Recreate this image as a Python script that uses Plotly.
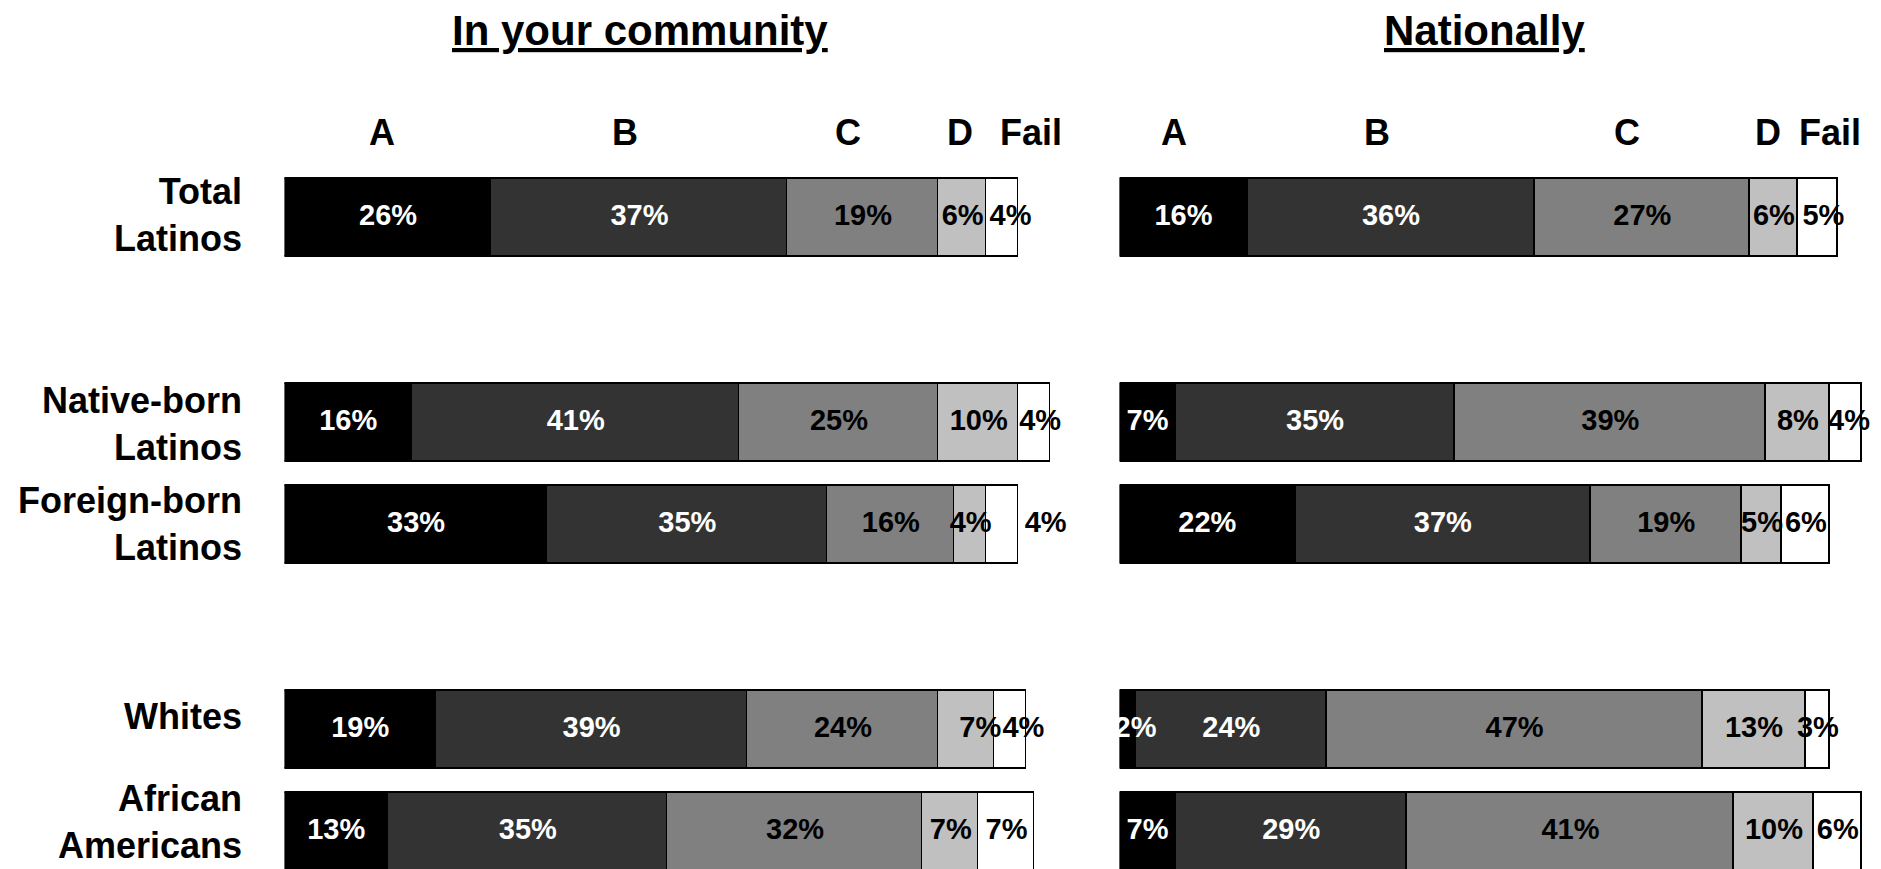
import plotly.graph_objects as go

# ---------------- data ----------------
rows = ["Total Latinos", "Native-born Latinos", "Foreign-born Latinos", "Whites", "African Americans"]
row_labels = ["Total<br>Latinos", "Native-born<br>Latinos", "Foreign-born<br>Latinos", "Whites", "African<br>Americans"]
row_groups = [1, 2, 2]  # number of rows in each visual group
grades = ["A", "B", "C", "D", "Fail"]

community_A = [26, 16, 33, 19, 13]
community_B = [37, 41, 35, 39, 35]
community_C = [19, 25, 16, 24, 32]
community_D = [6, 10, 4, 7, 7]
community_Fail = [4, 4, 4, 4, 7]

national_A = [16, 7, 22, 2, 7]
national_B = [36, 35, 37, 24, 29]
national_C = [27, 39, 19, 47, 41]
national_D = [6, 8, 5, 13, 10]
national_Fail = [5, 4, 6, 3, 6]

panel_titles = ["In your community", "Nationally"]

# ---------------- styling / layout ----------------
W, H = 1881, 869
OFF = 8  # page body margin compensation
FONT = "Arial, Liberation Sans, Helvetica, sans-serif"
fill_colors = ["#000000", "#333333", "#808080", "#c0c0c0", "#ffffff"]
text_colors = ["#ffffff", "#ffffff", "#000000", "#000000", "#000000"]

# row slots: groups separated by one empty slot
slots = []
s = 0
for g in row_groups:
    for _ in range(g):
        slots.append(s)
        s += 1
    s += 1

slot_px = 102.3
first_px = 218 - OFF
y_top = -first_px / slot_px
y_bot = (H - first_px) / slot_px
bar_w = 78 / slot_px

px_per_pct = 7.98
left_x0 = 284.4 - OFF
right_x0 = 1119.6 - OFF
left_range = 100
right_range = 95
left_dom = [left_x0 / W, (left_x0 + left_range * px_per_pct) / W]
right_dom = [right_x0 / W, (right_x0 + right_range * px_per_pct) / W]

# header positions (in % units along each panel)
header_x = {
    "x": [12.2, 42.7, 70.6, 84.7, 93.6],
    "x2": [6.8, 32.3, 63.6, 81.2, 89.0],
}
# small label nudges (in % units) where the original moved labels aside
label_nudge = {
    ("x", 0, 4): 1.0,
    ("x", 1, 4): 0.7,
    ("x", 2, 4): 5.4,
    ("x", 3, 3): 1.7,
    ("x", 3, 4): 1.6,
    ("x2", 0, 4): 0.7,
    ("x2", 1, 4): 0.4,
    ("x2", 3, 0): 1.0,
}
row_label_shift = [3, -1, 1, 13, 10]

panels = [
    ("x", "y", [community_A, community_B, community_C, community_D, community_Fail]),
    ("x2", "y2", [national_A, national_B, national_C, national_D, national_Fail]),
]

fig = go.Figure()

for xa, ya, series in panels:
    for gi, (g, vals) in enumerate(zip(grades, series)):
        fig.add_trace(go.Bar(
            x=vals, y=slots, orientation="h", name=g, width=bar_w,
            marker=dict(color=fill_colors[gi], line=dict(color="#000000", width=1.6)),
            xaxis=xa, yaxis=ya, showlegend=False, hoverinfo="skip",
        ))
    # labels
    lx, ly, lt, lc = [], [], [], []
    for ri in range(len(rows)):
        cum = 0
        for gi in range(len(grades)):
            v = series[gi][ri]
            lx.append(cum + v / 2 + label_nudge.get((xa, ri, gi), 0))
            ly.append(slots[ri])
            lt.append(f"<b>{v}%</b>")
            lc.append(text_colors[gi])
            cum += v
    fig.add_trace(go.Scatter(
        x=lx, y=ly, text=lt, mode="text", textposition="middle center",
        textfont=dict(family=FONT, size=29, color=lc),
        xaxis=xa, yaxis=ya, showlegend=False, hoverinfo="skip", cliponaxis=False,
    ))

annotations = []
for xa, hx in header_x.items():
    for g, x in zip(grades, hx):
        annotations.append(dict(
            x=x, y=1 - (132 - OFF) / H, xref=xa, yref="paper", text=f"<b>{g}</b>",
            showarrow=False, xanchor="center", yanchor="middle",
            font=dict(family=FONT, size=36, color="#000000"),
        ))

title_centers = [(640 - OFF) / W, (1484.4 - OFF) / W]
for t, cx in zip(panel_titles, title_centers):
    annotations.append(dict(
        x=cx, y=1 - (31 - OFF) / H, xref="paper", yref="paper", text=f"<b><u>{t}</u></b>",
        showarrow=False, xanchor="center", yanchor="middle",
        font=dict(family=FONT, size=42, color="#000000"),
    ))

for lab, sl, sh in zip(row_labels, slots, row_label_shift):
    annotations.append(dict(
        x=(244 - OFF) / W, y=sl, xref="paper", yref="y", text=f"<b>{lab}</b>",
        showarrow=False, xanchor="right", yanchor="middle", align="right", yshift=sh,
        font=dict(family=FONT, size=36, color="#000000"),
    ))

fig.update_layout(
    width=W, height=H,
    margin=dict(l=0, r=0, t=0, b=0),
    paper_bgcolor="#ffffff", plot_bgcolor="#ffffff",
    barmode="stack", bargap=0,
    annotations=annotations,
    xaxis=dict(domain=left_dom, range=[0, left_range], visible=False),
    xaxis2=dict(domain=right_dom, range=[0, right_range], visible=False),
    yaxis=dict(domain=[0, 1], range=[y_bot, y_top], visible=False),
    yaxis2=dict(domain=[0, 1], range=[y_bot, y_top], anchor="x2", matches="y", visible=False),
)

fig.write_html("out.html")
